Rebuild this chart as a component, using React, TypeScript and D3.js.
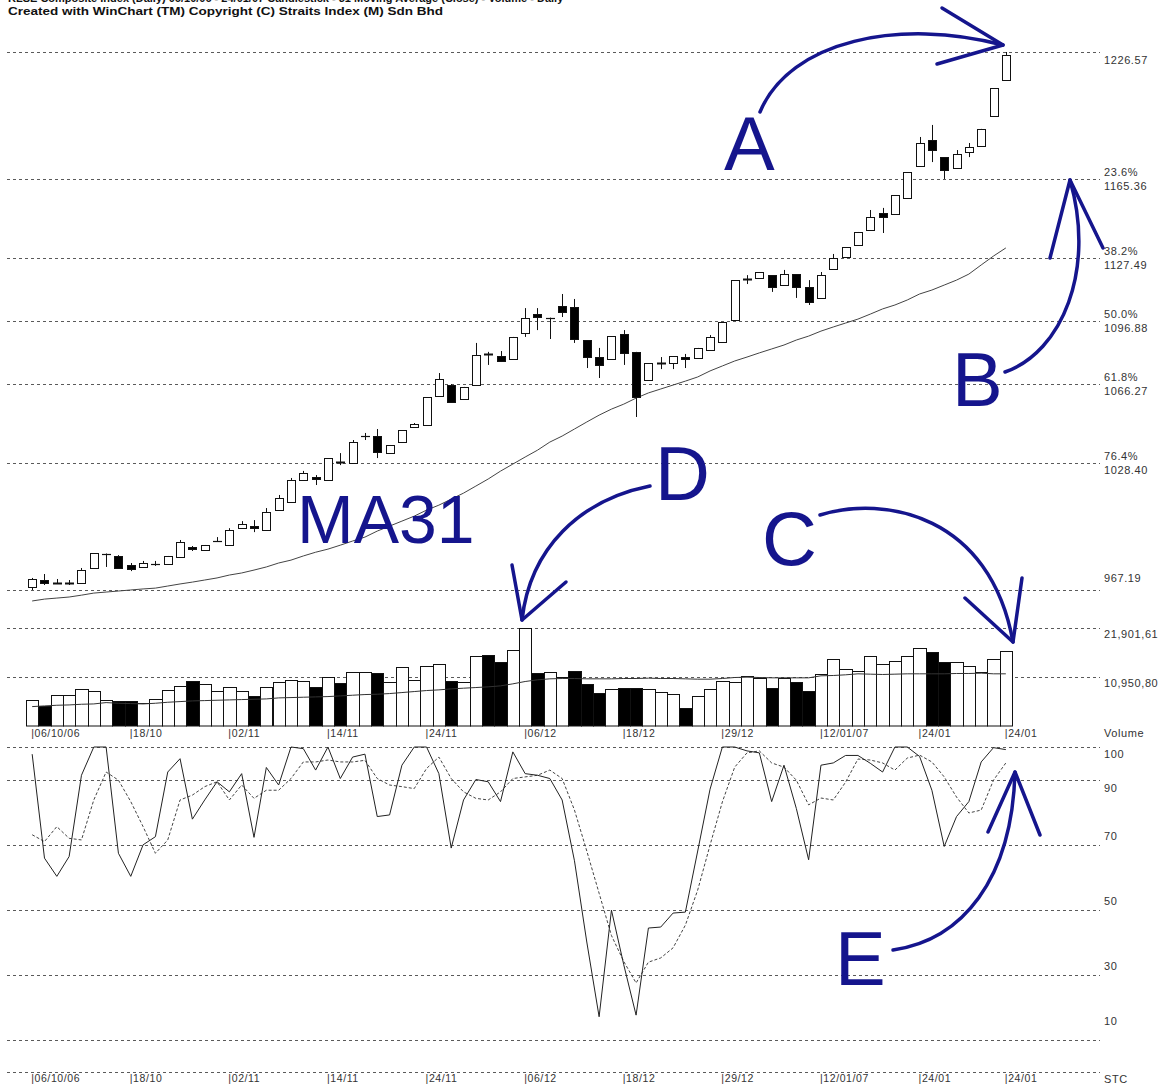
import React from "react";
import * as d3 from "d3";

const W = 1160;
const H = 1087;

// ---------- data ----------
const dateLabels = ["06/10/06", "18/10", "02/11", "14/11", "24/11", "06/12", "18/12", "29/12", "12/01/07", "24/01", "24/01"];
const dateIndex = [0, 8, 16, 24, 32, 40, 48, 56, 64, 72, 79];

const open = [968.6, 972.0, 970.8, 970.4, 970.6, 977.8, 984.3, 983.6, 979.2, 978.3, 979.5, 979.7, 983.1, 987.9, 986.5, 990.6, 988.9, 997.0, 998.0, 996.1, 1005.7, 1009.6, 1020.2, 1021.7, 1020.2, 1028.9, 1028.4, 1041.2, 1041.4, 1033.2, 1038.5, 1045.8, 1046.7, 1060.7, 1066.0, 1059.3, 1066.0, 1081.0, 1080.0, 1078.5, 1091.1, 1100.2, 1098.4, 1104.1, 1103.6, 1087.7, 1079.5, 1078.5, 1090.6, 1082.0, 1068.4, 1076.4, 1076.6, 1079.5, 1079.0, 1082.9, 1086.8, 1097.4, 1116.9, 1117.6, 1119.0, 1114.2, 1119.5, 1113.3, 1108.0, 1121.9, 1127.7, 1133.5, 1140.7, 1148.9, 1148.5, 1156.2, 1171.6, 1184.1, 1175.9, 1170.6, 1178.4, 1181.2, 1195.7, 1213.1];
const high = [973.0, 974.9, 972.5, 972.0, 977.8, 985.0, 984.8, 984.0, 980.2, 981.2, 981.2, 983.6, 991.3, 988.4, 988.9, 992.7, 997.0, 1000.4, 1000.9, 1006.7, 1013.0, 1021.2, 1024.6, 1022.6, 1030.8, 1033.2, 1039.5, 1042.9, 1044.8, 1037.1, 1044.3, 1047.7, 1060.2, 1071.8, 1066.5, 1065.1, 1086.3, 1082.0, 1082.4, 1089.2, 1103.1, 1103.1, 1098.5, 1109.9, 1107.5, 1087.7, 1083.9, 1089.6, 1092.5, 1082.0, 1076.6, 1079.5, 1080.0, 1081.0, 1083.9, 1090.1, 1096.4, 1116.6, 1119.0, 1120.5, 1119.0, 1121.5, 1119.5, 1116.6, 1120.5, 1129.2, 1132.5, 1139.8, 1150.4, 1151.4, 1157.6, 1168.7, 1185.6, 1191.4, 1175.9, 1179.3, 1182.7, 1189.5, 1209.2, 1226.57];
const low = [967.19, 969.6, 970.2, 969.6, 970.6, 977.8, 978.3, 977.8, 976.3, 978.3, 978.8, 979.7, 983.1, 986.0, 986.5, 990.4, 988.9, 997.0, 995.1, 996.1, 1005.7, 1009.6, 1020.2, 1017.8, 1020.2, 1027.4, 1028.4, 1039.5, 1030.8, 1033.2, 1038.5, 1045.8, 1046.7, 1060.7, 1057.8, 1059.3, 1066.0, 1075.7, 1077.1, 1078.5, 1089.2, 1092.5, 1088.2, 1098.8, 1086.3, 1074.2, 1069.4, 1078.5, 1075.7, 1050.6, 1068.4, 1073.7, 1073.7, 1074.2, 1079.0, 1082.9, 1086.8, 1097.4, 1114.7, 1117.6, 1110.9, 1114.2, 1108.0, 1104.6, 1108.0, 1121.9, 1127.7, 1133.5, 1140.7, 1139.3, 1148.5, 1156.2, 1171.6, 1173.5, 1165.36, 1170.6, 1175.9, 1181.2, 1195.7, 1213.1];
const close = [972.5, 970.6, 970.4, 970.8, 976.8, 985.0, 984.6, 977.8, 977.3, 980.2, 979.8, 983.6, 990.3, 986.9, 988.9, 990.9, 996.1, 999.0, 997.0, 1004.8, 1011.5, 1020.2, 1023.6, 1020.7, 1030.8, 1028.4, 1038.5, 1041.4, 1033.7, 1037.1, 1044.3, 1047.2, 1060.2, 1068.9, 1057.8, 1065.1, 1080.5, 1080.3, 1077.6, 1089.2, 1098.3, 1098.8, 1098.2, 1101.2, 1088.2, 1079.5, 1075.7, 1089.6, 1081.5, 1060.2, 1076.6, 1076.8, 1080.0, 1078.5, 1083.9, 1089.2, 1096.4, 1116.6, 1117.3, 1120.5, 1113.3, 1119.5, 1113.3, 1106.0, 1119.0, 1127.2, 1132.5, 1139.8, 1147.0, 1147.0, 1157.6, 1168.7, 1182.7, 1179.3, 1169.7, 1177.4, 1180.8, 1189.5, 1209.2, 1225.1];
const ma31 = [961.9, 962.8, 963.3, 963.8, 964.7, 965.7, 966.2, 966.7, 967.2, 967.7, 968.1, 969.1, 970.1, 971.0, 972.0, 973.0, 974.4, 975.4, 976.8, 978.3, 980.2, 981.6, 983.6, 985.4, 986.9, 988.8, 990.8, 992.7, 995.6, 998.0, 1000.4, 1002.8, 1005.7, 1008.1, 1011.0, 1013.9, 1017.3, 1020.7, 1024.5, 1027.9, 1031.3, 1034.6, 1038.5, 1041.4, 1044.8, 1048.2, 1051.5, 1054.4, 1056.8, 1059.7, 1062.2, 1064.1, 1066.0, 1067.9, 1069.9, 1072.8, 1075.2, 1077.6, 1079.5, 1081.5, 1083.4, 1085.3, 1087.7, 1089.6, 1092.0, 1094.0, 1095.9, 1097.8, 1100.2, 1102.7, 1104.6, 1107.0, 1109.9, 1111.8, 1114.2, 1116.6, 1119.5, 1123.9, 1128.2, 1132.1];

const volume = [5830, 4485, 7027, 7027, 8297, 7924, 5830, 5532, 5532, 5233, 6055, 8073, 9045, 10166, 9344, 7924, 8671, 7924, 6802, 8671, 9792, 10316, 10166, 8821, 10914, 9568, 12110, 12110, 11811, 9942, 13081, 10316, 13306, 13904, 10166, 9942, 15698, 15772, 14352, 16894, 21901.61, 11811, 12035, 10914, 12184, 9419, 7475, 8222, 8596, 8596, 8222, 7550, 7176, 4111, 6728, 8297, 10166, 9942, 11213, 10689, 8596, 10689, 9942, 7924, 11661, 14950, 12708, 12184, 15698, 13904, 14427, 15698, 17417, 16445, 14203, 14203, 13455, 11960, 14950, 16819];
const volumeMA = [4336, 4485, 4635, 4709, 4859, 4934, 5233, 5083, 5008, 4934, 5083, 5307, 5457, 5606, 5681, 5756, 5830, 5905, 5980, 6055, 6279, 6354, 6429, 6503, 6578, 6728, 6877, 7027, 7101, 7251, 7475, 7699, 7924, 8073, 8297, 8447, 8596, 8746, 8970, 9419, 9942, 10316, 10540, 10615, 10615, 10540, 10540, 10540, 10615, 10615, 10689, 10615, 10615, 10540, 10465, 10465, 10615, 10839, 10914, 10839, 10764, 10764, 10764, 10764, 11213, 11287, 11437, 11661, 11586, 11512, 11586, 11661, 11661, 11661, 11661, 11736, 11736, 11811, 11661, 11661];
const volumeDown = [1, 7, 8, 13, 18, 23, 25, 28, 34, 37, 38, 41, 44, 45, 46, 48, 49, 53, 60, 62, 63, 73, 74];

const stochK = [97.8, 65.8, 60.2, 66.3, 91.3, 100, 100, 67.3, 60.2, 69.9, 72.4, 92.3, 96.4, 77.8, 83.7, 89.3, 86.2, 91.8, 72.2, 93.7, 88.3, 100, 99.5, 92.9, 100, 90.3, 96.9, 97.8, 78.6, 79.1, 94.4, 100, 100, 91.8, 68.9, 83.7, 90.0, 89.3, 83.2, 98.5, 91.8, 91.3, 90.3, 83.7, 65, 40, 17, 49.8, 33, 17.5, 44.3, 44.6, 48.9, 49.2, 68, 87, 100, 100, 98.8, 98.2, 83.2, 94.4, 81.1, 65.3, 94.4, 95.1, 97.4, 97.4, 95, 92.3, 100, 100, 97.1, 86.7, 69.4, 78.6, 83.2, 95.4, 99.8, 99.2];
const stochD = [73.0, 70.9, 75.5, 71.9, 71.4, 83.7, 92.3, 89.8, 83.2, 75.5, 67.3, 71.4, 83.7, 85.2, 87.8, 89.3, 83.7, 88.3, 84.2, 86.7, 86.7, 90.3, 95.4, 95.4, 96.0, 95.4, 95.4, 95.9, 90.3, 88.3, 87.8, 87.2, 93.4, 96.9, 90.3, 86.2, 84.2, 83.7, 86.2, 90.3, 90.8, 91.3, 92.9, 90.3, 80.6, 68, 55, 42, 34, 27.4, 33.8, 35.1, 38.2, 45.2, 56.0, 69.8, 83.1, 93.8, 98.2, 98.8, 95.1, 93.8, 89.8, 82.2, 84.3, 83.7, 89.2, 96.3, 96.0, 95.1, 92.9, 96.6, 97.5, 95.4, 90.8, 84.6, 79.7, 80.6, 89.8, 95.1];

const priceHigh = 1226.57;
const priceLow = 967.19;
const fibRatios = [0.236, 0.382, 0.5, 0.618, 0.764];
const fibPctLabels = ["23.6%", "38.2%", "50.0%", "61.8%", "76.4%"];
const fibValueLabels = ["1165.36", "1127.49", "1096.88", "1066.27", "1028.40"];
const volTicks = [21901.61, 10950.8];
const volTickLabels = ["21,901,61", "10,950,80"];
const stcLines = [100, 90, 70, 50, 30, 10, 0];
const stcLabels = ["100", "90", "70", "50", "30", "10"];

// ---------- component ----------
const NAVY = "#15158d";
const GRID = "#5a5a5a";
const TXT = "#333";
const FONT = "'Liberation Sans', Arial, sans-serif";

export default function App() {
  const n = open.length;
  const x = d3.scaleBand<number>().domain(d3.range(n)).range([26, 1012]).padding(0);
  const bw = x.bandwidth();
  const cx = (i: number) => (x(i) as number) + bw / 2;
  const yP = d3.scaleLinear().domain([priceLow, priceHigh]).range([590, 52]);
  const yV = d3.scaleLinear().domain([0, volTicks[0]]).range([726, 628]);
  const yS = d3.scaleLinear().domain([0, 100]).range([1072, 747]);

  const X0 = 7;
  const X1 = 1100;
  const LX = 1104;

  const fibValues = fibRatios.map((r) => priceHigh - r * (priceHigh - priceLow));

  const maLine = d3.line<number>().x((_, i) => cx(i)).y((d) => yP(d));
  const vmaLine = d3.line<number>().x((_, i) => cx(i)).y((d) => yV(d));
  const sLine = d3.line<number>().x((_, i) => cx(i)).y((d) => yS(d));

  const dash = (y: number, key: string) => (
    <line key={key} x1={X0} x2={X1} y1={Math.round(y) + 0.5} y2={Math.round(y) + 0.5} stroke={GRID} strokeDasharray="3 3" strokeWidth={1} />
  );

  const lblStyle: React.CSSProperties = { fontFamily: FONT, fontSize: 11, fill: TXT, letterSpacing: 0.6 };
  const stcOffsets = [11, 12, -5, -5, -5, -15];

  return (
    <svg width={W} height={H} style={{ position: "absolute", left: 0, top: 0, background: "#fff" }} xmlns="http://www.w3.org/2000/svg">
      <rect width={W} height={H} fill="#fff" />
      {/* title */}
      <text x={8} y={2} style={{ fontFamily: FONT, fontSize: 11, fontWeight: 700 }} fill="#111">
        KLSE Composite Index (Daily) 06/10/06 - 24/01/07 Candlestick - 31 Moving Average (Close) - Volume - Daily
      </text>
      <text x={8} y={15} textLength={435} lengthAdjust="spacingAndGlyphs" style={{ fontFamily: FONT, fontSize: 11, fontWeight: 700 }} fill="#111">
        Created with WinChart (TM)  Copyright (C) Straits Index (M) Sdn Bhd
      </text>

      {/* price grid */}
      {dash(yP(priceHigh), "ph")}
      {fibValues.map((v, i) => dash(yP(v), "f" + i))}
      {dash(yP(priceLow), "pl")}
      <text x={LX} y={yP(priceHigh) + 12} style={lblStyle}>{priceHigh.toFixed(2)}</text>
      {fibValues.map((v, i) => (
        <g key={"fl" + i}>
          <text x={LX} y={yP(v) - 3} style={lblStyle}>{fibPctLabels[i]}</text>
          <text x={LX} y={yP(v) + 11} style={lblStyle}>{fibValueLabels[i]}</text>
        </g>
      ))}
      <text x={LX} y={yP(priceLow) - 8} style={lblStyle}>{priceLow.toFixed(2)}</text>

      {/* MA31 */}
      <path d={maLine(ma31) || ""} fill="none" stroke="#444" strokeWidth={1} />

      {/* candles */}
      {open.map((o, i) => {
        const c = close[i];
        const xc = Math.round(cx(i)) + 0.5;
        const yo = yP(o);
        const yc = yP(c);
        const top = Math.min(yo, yc);
        const hgt = Math.abs(yo - yc);
        const down = c < o;
        return (
          <g key={"c" + i}>
            <line x1={xc} x2={xc} y1={yP(high[i])} y2={yP(low[i])} stroke="#111" strokeWidth={1} />
            {hgt < 1.6 ? (
              <line x1={xc - 4.5} x2={xc + 4.5} y1={Math.round(top) + 0.5} y2={Math.round(top) + 0.5} stroke="#111" strokeWidth={hgt < 0.8 ? 1.2 : 2} />
            ) : (
              <rect x={xc - 4} y={Math.round(top) + 0.5} width={8} height={Math.max(1, Math.round(hgt))} fill={down ? "#000" : "#fff"} stroke="#111" strokeWidth={1} />
            )}
          </g>
        );
      })}

      {/* volume */}
      {volTicks.map((v, i) => dash(yV(v), "v" + i))}
      {volTicks.map((v, i) => (
        <text key={"vl" + i} x={LX} y={yV(v) + 10} style={lblStyle}>{volTickLabels[i]}</text>
      ))}
      {volume.map((v, i) => {
        const x0 = Math.round(x(i) as number) + 0.5;
        const x1 = Math.round((x(i) as number) + bw) + 0.5;
        const yt = Math.round(yV(v)) + 0.5;
        const down = volumeDown.includes(i);
        return <rect key={"vb" + i} x={x0} y={yt} width={x1 - x0} height={yV(0) - yt} fill={down ? "#000" : "#fff"} stroke="#111" strokeWidth={1} />;
      })}
      <path d={vmaLine(volumeMA) || ""} fill="none" stroke="#333" strokeWidth={1} />
      {dateIndex.map((di, k) => (
        <text key={"dv" + k} x={cx(di) - 1} y={737} style={{ ...lblStyle, fontSize: 10.5 }}>{"|" + dateLabels[k]}</text>
      ))}
      <text x={LX} y={737} style={lblStyle}>Volume</text>

      {/* stochastic */}
      {stcLines.map((v, i) => dash(yS(v), "s" + i))}
      {stcLabels.map((l, i) => (
        <text key={"sl" + i} x={LX} y={yS(stcLines[i]) + stcOffsets[i]} style={lblStyle}>{l}</text>
      ))}
      <path d={sLine(stochD) || ""} fill="none" stroke="#444" strokeWidth={1} strokeDasharray="3 2" />
      <path d={sLine(stochK) || ""} fill="none" stroke="#222" strokeWidth={1} />
      {dateIndex.map((di, k) => (
        <text key={"ds" + k} x={cx(di) - 1} y={1082} style={{ ...lblStyle, fontSize: 10.5 }}>{"|" + dateLabels[k]}</text>
      ))}
      <text x={LX} y={1083} style={lblStyle}>STC</text>

      {/* annotations */}
      <g fill="none" stroke={NAVY} strokeWidth={3.5} strokeLinecap="round" strokeLinejoin="round">
        <path d="M 760 112 C 790 40, 900 18, 1003 45" />
        <path d="M 942 8 L 1003 45 L 937 64" />
        <path d="M 1005 372 C 1062 352, 1096 270, 1070 180" />
        <path d="M 1050 258 L 1070 180 L 1103 248" />
        <path d="M 820 515 C 885 495, 990 515, 1013 642" />
        <path d="M 965 598 L 1013 642 L 1022 578" />
        <path d="M 650 486 C 580 500, 530 548, 522 620" />
        <path d="M 512 565 L 522 620 L 566 582" />
        <path d="M 893 950 C 962 940, 1012 880, 1015 772" />
        <path d="M 988 832 L 1015 772 L 1040 835" />
      </g>
      <g fill={NAVY} style={{ fontFamily: FONT }}>
        <text x={724} y={170} fontSize={76}>A</text>
        <text x={952} y={406} fontSize={76}>B</text>
        <text x={762} y={565} fontSize={76}>C</text>
        <text x={655} y={500} fontSize={76}>D</text>
        <text x={835} y={985} fontSize={76}>E</text>
        <text x={297} y={543} fontSize={68}>MA31</text>
      </g>
    </svg>
  );
}
